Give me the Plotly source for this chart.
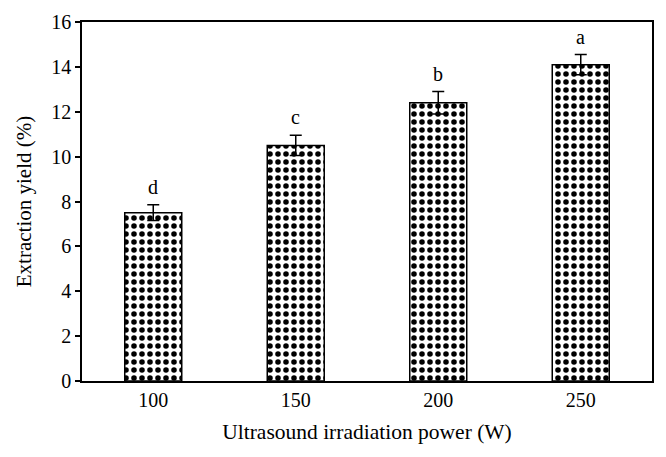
import plotly.graph_objects as go

categories = ["100", "150", "200", "250"]
yield_values = [7.5, 10.5, 12.4, 14.1]
yield_errors = [0.35, 0.45, 0.5, 0.45]
group_letters = ["d", "c", "b", "a"]
y_ticks = [0, 2, 4, 6, 8, 10, 12, 14, 16]

font_family = "Liberation Serif"

fig = go.Figure()
fig.add_trace(go.Bar(
    x=categories,
    y=yield_values,
    width=0.4,
    marker=dict(
        color="white",
        line=dict(color="black", width=1.5),
        pattern=dict(shape=".", fgcolor="black", bgcolor="white", fgopacity=1,
                     size=8, solidity=0.38),
    ),
    error_y=dict(type="data", array=yield_errors, visible=True, color="black",
                 thickness=1.5, width=6),
    showlegend=False,
))

for i, (val, err, letter) in enumerate(zip(yield_values, yield_errors, group_letters)):
    fig.add_annotation(x=i, y=val + err, text=letter, showarrow=False,
                       yanchor="bottom", yshift=5,
                       font=dict(family=font_family, size=20, color="black"))

# page body adds an 8px offset; compensate so the plot lands where the reference has it
fig.update_layout(
    width=658, height=449,
    margin=dict(l=74, r=14, t=14, b=76),
    plot_bgcolor="white", paper_bgcolor="white",
    font=dict(family=font_family, size=20, color="black"),
)
fig.update_xaxes(
    type="category", range=[-0.5, 3.5], automargin=False,
    showline=True, linecolor="black", linewidth=1.5, mirror=True,
    ticks="", showgrid=False,
    title=dict(text="Ultrasound irradiation power (W)", font=dict(family=font_family, size=21.5), standoff=14),
    tickfont=dict(family=font_family, size=20),
)
fig.update_yaxes(
    range=[0, 16], tickvals=y_ticks, automargin=False,
    showline=True, linecolor="black", linewidth=1.5, mirror=True,
    ticks="outside", ticklen=5, tickcolor="black", tickwidth=1.5,
    showgrid=False, zeroline=False,
    title=dict(text="Extraction yield (%)", font=dict(family=font_family, size=21), standoff=14),
    tickfont=dict(family=font_family, size=20),
)

fig.write_html("out.html")
